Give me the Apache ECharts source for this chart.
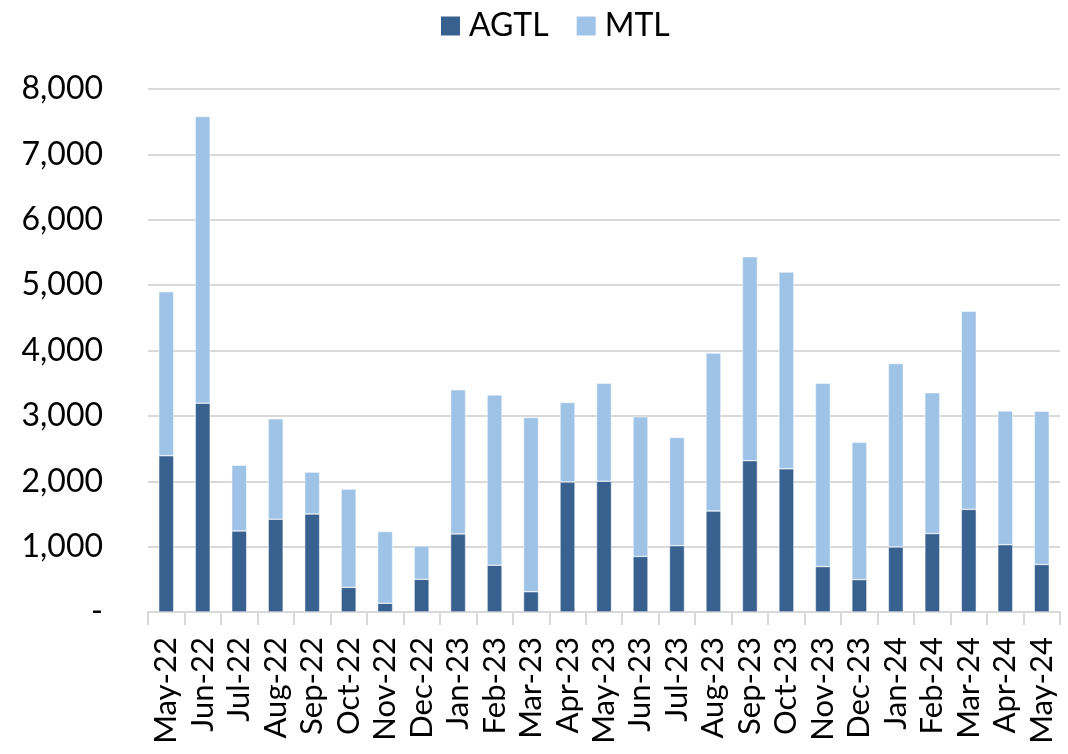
<!DOCTYPE html>
<html>
<head>
<meta charset="utf-8">
<script src="https://cdn.jsdelivr.net/npm/echarts@6/dist/echarts.min.js"></script>
<style>html,body{margin:0;padding:0;background:#fff;}#c{width:1068px;height:754px;}</style>
</head>
<body>
<div id="c"></div>
<script>
const categories = ["May-22","Jun-22","Jul-22","Aug-22","Sep-22","Oct-22","Nov-22","Dec-22","Jan-23","Feb-23","Mar-23","Apr-23","May-23","Jun-23","Jul-23","Aug-23","Sep-23","Oct-23","Nov-23","Dec-23","Jan-24","Feb-24","Mar-24","Apr-24","May-24"];
const agtl = [2390,3195,1240,1420,1500,377,133,500,1195,715,310,1990,2000,850,1015,1545,2315,2190,695,495,995,1200,1570,1030,727];
const mtl  = [2510,4385,1005,1535,640,1503,1097,510,2205,2605,2665,1215,1500,2135,1655,2415,3120,3010,2805,2100,2805,2155,3030,2045,2343];
const yTicks = {min:0, max:8000, interval:1000};

const fontFam = "Lato, 'Open Sans', sans-serif";
const chart = echarts.init(document.getElementById('c'));
chart.setOption({
  animation:false,
  backgroundColor:'#fff',
  legend:{
    top:5, left:434, itemWidth:21, itemHeight:21, itemGap:26,
    icon:'rect',
    textStyle:{fontSize:32, color:'#000', fontFamily:fontFam, padding:[0,0,0,3]},
    data:['AGTL','MTL']
  },
  grid:{left:148, right:8, top:89, bottom:142},
  xAxis:{
    type:'category', data:categories,
    axisLine:{lineStyle:{color:'#d9d9d9', width:2}},
    axisTick:{show:true, length:13, lineStyle:{color:'#d9d9d9', width:2}},
    axisLabel:{rotate:90, fontSize:31, color:'#000', fontFamily:fontFam, margin:25, interval:0}
  },
  yAxis:{
    type:'value', min:yTicks.min, max:yTicks.max, interval:yTicks.interval,
    axisLine:{show:false}, axisTick:{show:false},
    splitLine:{lineStyle:{color:'#d9d9d9', width:2}},
    axisLabel:{fontSize:32, color:'#000', fontFamily:fontFam, margin:45,
      formatter:v => v===0 ? '-' : v.toLocaleString('en-US')}
  },
  series:[
    {name:'AGTL', type:'bar', stack:'t', data:agtl, barWidth:'41%',
     itemStyle:{color:'#386190', borderColor:'#ffffff', borderWidth:0.5}},
    {name:'MTL', type:'bar', stack:'t', data:mtl, barWidth:'41%',
     itemStyle:{color:'#9fc3e6', borderColor:'#ffffff', borderWidth:0.5}}
  ]
});
</script>
</body>
</html>
